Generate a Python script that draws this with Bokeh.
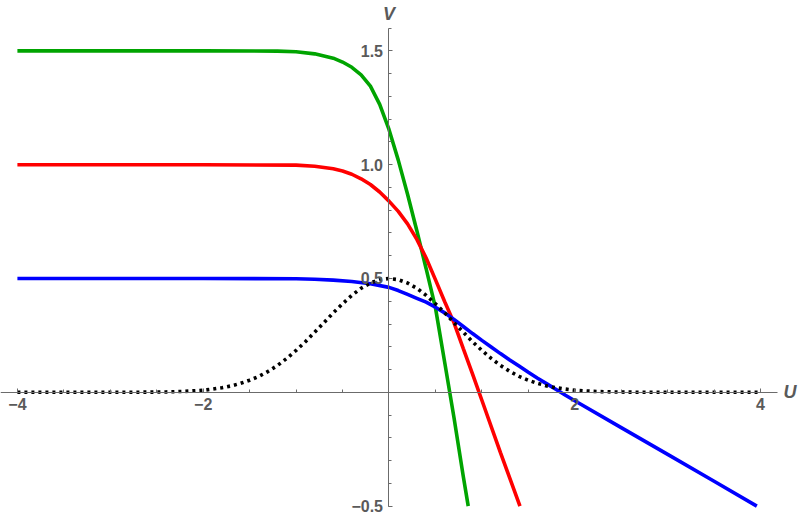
from bokeh.plotting import figure
from bokeh.models import Range1d, FixedTicker, Label
from bokeh.embed import file_html
from bokeh.resources import INLINE

# ---- data ----
green_x = [-4.0, -2.0, -1.2, -1.0, -0.8, -0.6, -0.5, -0.4, -0.3, -0.2, -0.1, 0.0, 0.1, 0.2,
           0.3, 0.4, 0.5, 0.6, 0.7, 0.8, 0.853]
green_y = [1.5, 1.5, 1.499, 1.496, 1.487, 1.468, 1.451, 1.428, 1.395, 1.345, 1.265, 1.155, 1.02, 0.87,
           0.71, 0.543, 0.372, 0.131, -0.112, -0.37, -0.5]

red_x = [-4.0, -2.0, -1.0, -0.8, -0.6, -0.5, -0.4, -0.3, -0.2, -0.1, 0.0, 0.1, 0.2, 0.3,
         0.4, 0.5, 0.6, 0.7, 0.8, 0.9, 1.0, 1.2, 1.41]
red_y = [1.0, 1.0, 0.998, 0.993, 0.982, 0.972, 0.958, 0.938, 0.913, 0.88, 0.84, 0.795, 0.74, 0.672,
         0.59, 0.495, 0.398, 0.305, 0.192, 0.08, -0.035, -0.265, -0.5]

blue_x = [-4.0, -2.0, -1.0, -0.8, -0.6, -0.4, -0.2, 0.0, 0.1, 0.2, 0.3, 0.4, 0.5, 0.6, 0.7, 0.8,
          0.9, 1.0, 1.1, 1.2, 1.3, 1.4, 1.5, 1.6, 1.7, 1.8, 1.9, 2.0, 2.5, 3.0, 3.5, 3.96]
blue_y = [0.5, 0.5, 0.499, 0.497, 0.493, 0.487, 0.477, 0.461, 0.447, 0.43, 0.413, 0.396, 0.374,
          0.349, 0.32, 0.289, 0.258, 0.228, 0.199, 0.17, 0.142, 0.115, 0.088, 0.062, 0.037,
          0.012, -0.013, -0.037, -0.155, -0.273, -0.391, -0.5]

dot_x = [-4.0, -3.0, -2.6, -2.4, -2.2, -2.0, -1.9, -1.8, -1.7, -1.6, -1.5, -1.4, -1.3, -1.2,
         -1.1, -1.0, -0.9, -0.8, -0.7, -0.6, -0.5, -0.4, -0.3, -0.2, -0.1, 0.0,
         0.1, 0.2, 0.3, 0.4, 0.5, 0.6, 0.7, 0.8, 0.9, 1.0, 1.1, 1.2, 1.3, 1.4, 1.5,
         1.6, 1.7, 1.8, 1.9, 2.0, 2.2, 2.4, 2.6, 3.0, 4.0]
dot_y = [0.0, 0.0, 0.0006, 0.0016, 0.004, 0.009, 0.014, 0.020, 0.028, 0.039, 0.053, 0.070, 0.092,
         0.118, 0.149, 0.184, 0.222, 0.264, 0.306, 0.349, 0.389, 0.426, 0.457, 0.480, 0.495, 0.5,
         0.495, 0.480, 0.457, 0.426, 0.389, 0.349, 0.306, 0.264, 0.222, 0.184, 0.149, 0.118, 0.092,
         0.070, 0.053, 0.039, 0.028, 0.020, 0.014, 0.009, 0.004, 0.0016, 0.0006, 0.0, 0.0]

x_major = [-4, -2, 2, 4]
x_labels = {-4: "\u22124", -2: "\u22122", 2: "2", 4: "4"}
x_minor = [-4, -3.5, -3, -2.5, -2, -1.5, -1, -0.5, 0.5, 1, 1.5, 2, 2.5, 3, 3.5, 4]
y_major = [-0.5, 0.5, 1.0, 1.5]
y_labels = {-0.5: "\u22120.5", 0.5: "0.5", 1.0: "1.0", 1.5: "1.5"}
y_minor = [-0.5, -0.4, -0.3, -0.2, -0.1, 0.1, 0.2, 0.3, 0.4, 0.5, 0.6, 0.7, 0.8, 0.9,
           1.0, 1.1, 1.2, 1.3, 1.4, 1.5, 1.6]

p = figure(width=800, height=518, output_backend="svg", toolbar_location=None,
           x_range=Range1d(-4.182, 4.430), y_range=Range1d(-0.5545, 1.7214))
p.min_border_left = 0
p.min_border_right = 0
p.min_border_top = 0
p.min_border_bottom = 0
p.outline_line_color = None
p.grid.visible = False

p.line(green_x, green_y, line_color="#00A400", line_width=3.6)
p.line(red_x, red_y, line_color="#FF0000", line_width=3.6)
p.line(blue_x, blue_y, line_color="#0000FF", line_width=3.6)
p.line(dot_x, dot_y, line_color="black", line_width=3.6, line_dash="3 4", line_cap="butt")

axis_col = "#6b6b6b"
lab_col = "#5a5a5a"
for ax, ticks, minors, labels, bounds in (
        (p.xaxis[0], x_major, x_minor, x_labels, (-4.19, 4.18)),
        (p.yaxis[0], y_major, y_minor, y_labels, (-0.5, 1.6))):
    ax.fixed_location = 0
    ax.ticker = FixedTicker(ticks=ticks, minor_ticks=minors)
    ax.major_label_overrides = labels
    ax.bounds = bounds
    ax.axis_line_color = axis_col
    ax.axis_line_width = 1
    ax.major_tick_line_color = axis_col
    ax.minor_tick_line_color = axis_col
    ax.major_tick_in = 4
    ax.major_tick_out = 0
    ax.minor_tick_in = 3
    ax.minor_tick_out = 0
    ax.major_label_text_font = "Liberation Sans"
    ax.major_label_text_font_style = "bold"
    ax.major_label_text_font_size = "16px"
    ax.major_label_text_color = lab_col
    ax.major_label_standoff = 6

p.add_layout(Label(x=4.246, y=0, text="U", text_font="Liberation Sans", text_font_style="bold italic",
                   text_font_size="18px", text_color=lab_col, text_baseline="middle", text_align="left"))
p.add_layout(Label(x=0, y=1.708, text="V", text_font="Liberation Sans", text_font_style="bold italic",
                   text_font_size="18px", text_color=lab_col, text_baseline="top", text_align="center"))

open("out.html", "w").write(file_html(p, INLINE))
